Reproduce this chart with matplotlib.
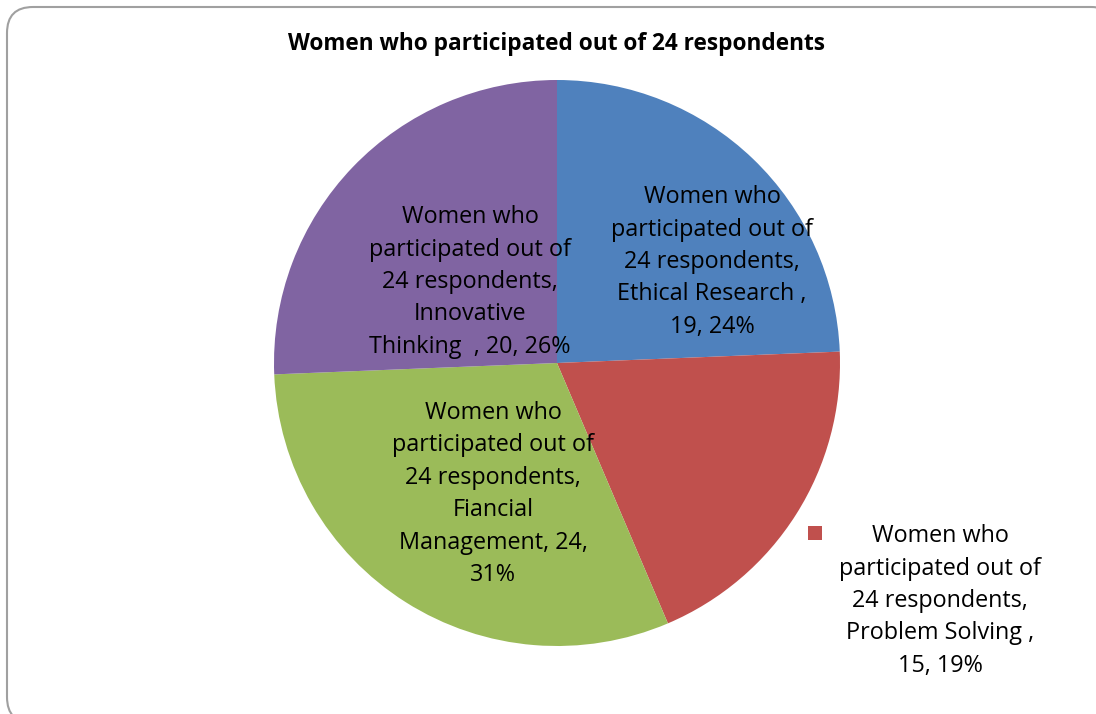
import matplotlib.pyplot as plt
from matplotlib.patches import FancyBboxPatch, Rectangle

title = 'Women who participated out of 24 respondents'
series = 'Women who\nparticipated out of\n24 respondents,'
skills = ['Ethical Research ', 'Problem Solving ', 'Fiancial\nManagement', 'Innovative\nThinking  ']
counts = [19, 15, 24, 20]
percents = ['24%', '19%', '31%', '26%']
colors = ['#4F81BD', '#C0504D', '#9BBB59', '#8064A2']

plt.rcParams['font.family'] = ['Open Sans', 'DejaVu Sans']

fig = plt.figure(figsize=(10.96, 7.14), dpi=100)

# background axes just for the rounded chart border (cut at right and bottom)
bg = fig.add_axes([0, 0, 1, 1], zorder=-1)
bg.set_xlim(0, 1096)
bg.set_ylim(0, 714)
bg.axis('off')
bg.add_patch(FancyBboxPatch((7, -9), 1110, 716, boxstyle='round,pad=0,rounding_size=26',
                            fc='white', ec='#a0a0a0', lw=1.5, clip_on=False))

ax = fig.add_axes([0, 0, 1, 1])
ax.patch.set_alpha(0)
# y axis is flipped, so counterclock=True draws clockwise on screen
ax.pie(counts, colors=colors, startangle=-90, counterclock=True,
       center=(557, 363), radius=283, frame=True,
       wedgeprops=dict(linewidth=0))
ax.set_xlim(0, 1096)
ax.set_ylim(714, 0)
ax.axis('off')

ax.text(557, 44, title, ha='center', va='center', fontsize=16.3, fontweight='bold')

lab_pos = [(712, 262), (940, 601), (493, 494), (470, 282)]
for i, (s, c, p) in enumerate(zip(skills, counts, percents)):
    if i == 2:
        txt = f'{series}\n{s}, {c},\n{p}'
    elif i == 3:
        txt = f'{series}\n{s}, {c}, {p}'
    else:
        txt = f'{series}\n{s},\n{c}, {p}'
    x, y = lab_pos[i]
    ax.text(x, y, txt, ha='center', va='center', fontsize=16.8, linespacing=1.47)

ax.add_patch(Rectangle((808, 526), 14, 14, fc=colors[1], ec='none'))

fig.savefig('out.png', dpi=100)
